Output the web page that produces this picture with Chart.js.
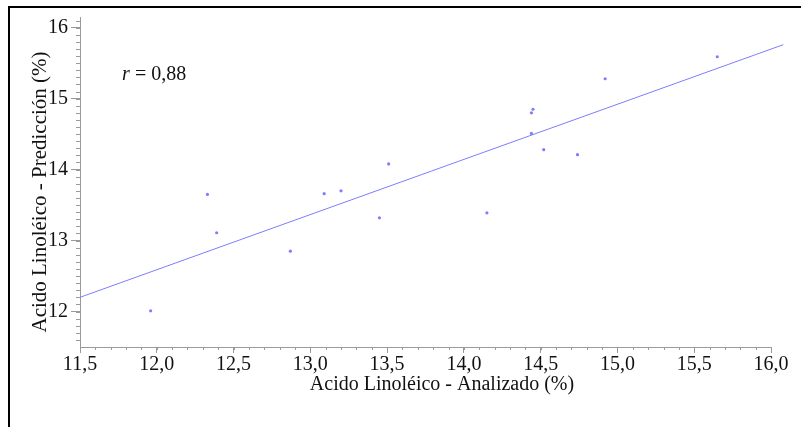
<!DOCTYPE html>
<html>
<head>
<meta charset="utf-8">
<script src="https://cdn.jsdelivr.net/npm/chart.js@4.4.1/dist/chart.umd.min.js"></script>
<style>
  html, body { margin: 0; padding: 0; background: #fff; }
  #wrap { width: 801px; height: 427px; }
</style>
</head>
<body>
<div id="wrap"><canvas id="chart"></canvas></div>
<script>
// Analizado (%) vs Predicción (%)
const analizado = [11.96, 12.33, 12.39, 12.87, 13.09, 13.20, 13.45, 13.51,
    14.15, 14.44, 14.44, 14.45, 14.52, 14.74, 14.92, 15.65];
const prediccion = [12.01, 13.65, 13.11, 12.85, 13.66, 13.70, 13.32, 14.08,
    13.39, 14.51, 14.80, 14.85, 14.28, 14.21, 15.28, 15.59];
// regression line end points
const lineX = [11.5, 16.08];
const lineY = [12.2, 15.76];

const xTicks = [11.5, 12.0, 12.5, 13.0, 13.5, 14.0, 14.5, 15.0, 15.5, 16.0];
const yTicks = [12, 13, 14, 15, 16];
const rLabel = '0,88';

const serif = '"Liberation Serif", "DejaVu Serif", serif';
const axisColor = '#9a9a9a';
const blue = 'rgb(125,125,255)';

const points = analizado.map(function (x, i) { return {x: x, y: prediccion[i]}; });
const regLine = lineX.map(function (x, i) { return {x: x, y: lineY[i]}; });

const decorations = {
    id: 'decorations',
    afterDraw: function (chart) {
        const ctx = chart.ctx;
        const area = chart.chartArea;
        const xs = chart.scales.x;
        const ys = chart.scales.y;
        ctx.save();

        // frame
        ctx.strokeStyle = '#000';
        ctx.lineWidth = 2;
        ctx.beginPath();
        ctx.moveTo(801, 7);
        ctx.lineTo(9, 7);
        ctx.lineTo(9, 427);
        ctx.stroke();

        // minor ticks
        ctx.strokeStyle = axisColor;
        ctx.lineWidth = 1;
        ctx.beginPath();
        for (let v = 11.6; v < 16.0; v += 0.1) {
            const px = Math.round(xs.getPixelForValue(v)) + 0.5;
            ctx.moveTo(px, area.bottom);
            ctx.lineTo(px, area.bottom + 3);
        }
        for (let v = 11.6; v < 16.15; v += 0.1) {
            const py = Math.round(ys.getPixelForValue(v)) + 0.5;
            ctx.moveTo(area.left, py);
            ctx.lineTo(area.left - 4, py);
        }
        ctx.stroke();

        // axis titles
        ctx.fillStyle = '#111';
        ctx.font = '20px ' + serif;
        ctx.textAlign = 'center';
        ctx.textBaseline = 'middle';
        ctx.fillText('Acido Linoléico - Analizado (%)', 442, 385);
        ctx.save();
        ctx.translate(40, 192);
        ctx.rotate(-Math.PI / 2);
        ctx.font = '21px ' + serif;
        ctx.fillText('Acido Linoléico - Predicción (%)', 0, 0);
        ctx.restore();

        // correlation
        ctx.textAlign = 'left';
        ctx.textBaseline = 'alphabetic';
        ctx.font = 'italic 20px ' + serif;
        ctx.fillText('r', 122, 80);
        ctx.font = '20px ' + serif;
        ctx.fillText('= ' + rLabel, 135, 80);
        ctx.restore();
    }
};

new Chart(document.getElementById('chart'), {
    type: 'scatter',
    data: {
        datasets: [{
            data: points,
            pointRadius: 1.6,
            pointBackgroundColor: blue,
            pointBorderWidth: 0,
            showLine: false
        }, {
            type: 'line',
            data: regLine,
            borderColor: blue,
            borderWidth: 1,
            pointRadius: 0,
            fill: false,
            clip: false
        }]
    },
    options: {
        responsive: true,
        maintainAspectRatio: false,
        animation: false,
        layout: {padding: {left: 0, top: 17, right: 30, bottom: 0}},
        plugins: {legend: {display: false}, tooltip: {enabled: false}},
        scales: {
            x: {
                type: 'linear',
                min: 11.5,
                max: 16.0,
                afterBuildTicks: function (scale) {
                    scale.ticks = xTicks.map(function (v) { return {value: v}; });
                },
                afterFit: function (scale) { scale.height = 80; },
                grid: {drawOnChartArea: false, tickLength: 6, color: axisColor},
                border: {color: axisColor},
                ticks: {
                    color: '#111',
                    padding: 0,
                    maxRotation: 0,
                    autoSkip: false,
                    font: {family: serif, size: 20},
                    callback: function (v) { return v.toFixed(1).replace('.', ','); }
                }
            },
            y: {
                type: 'linear',
                min: 11.5,
                max: 16.15,
                afterBuildTicks: function (scale) {
                    scale.ticks = yTicks.map(function (v) { return {value: v}; });
                },
                afterFit: function (scale) { scale.width = 80; },
                grid: {drawOnChartArea: false, tickLength: 9, color: axisColor},
                border: {color: axisColor},
                ticks: {
                    color: '#111',
                    padding: 3,
                    autoSkip: false,
                    font: {family: serif, size: 20},
                    callback: function (v) { return String(v); }
                }
            }
        }
    },
    plugins: [decorations]
});
</script>
</body>
</html>
